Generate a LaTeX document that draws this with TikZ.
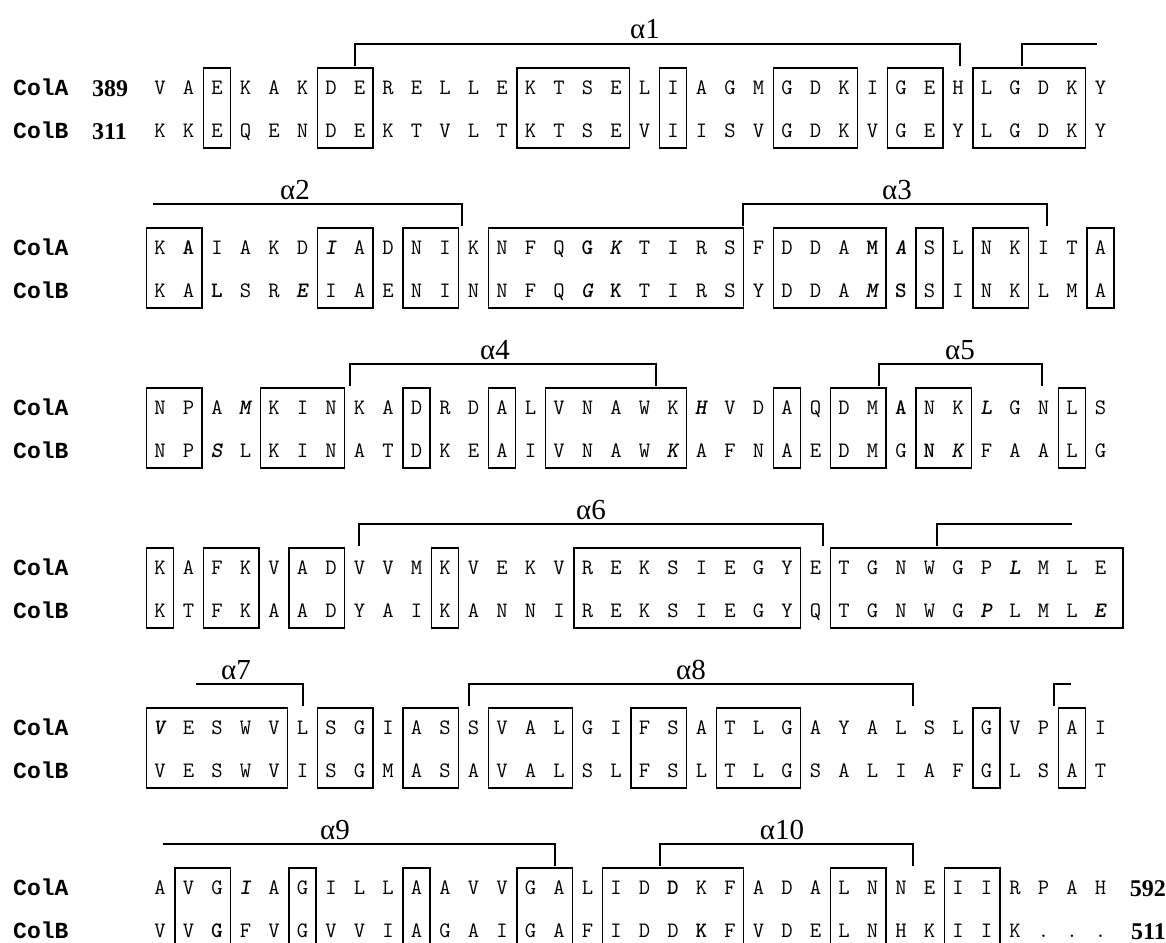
\documentclass[tikz,border=0pt]{standalone}
\usepackage{fontspec}
\setmainfont{Liberation Serif}
\newfontfamily\labfont{Liberation Mono}
\newcommand\resB[1]{\textbf{#1}}
\newcommand\resI[1]{\textbf{\textit{#1}}}
\tikzset{
  res/.style={font=\ttfamily\fontsize{22}{22}\selectfont, anchor=base, inner sep=0pt},
  rowlab/.style={font=\labfont\bfseries\fontsize{23}{23}\selectfont, anchor=base west, inner sep=0pt},
  numlab/.style={font=\rmfamily\bfseries\fontsize{24}{24}\selectfont, inner sep=0pt},
  hlab/.style={font=\rmfamily\fontsize{29}{29}\selectfont, anchor=base, inner sep=0pt},
  boxl/.style={line width=1.8pt},
  brk/.style={line width=2.2pt, line cap=butt, line join=miter},
}
% one alignment block: #1 index, #2 ColA residues, #3 ColB residues, #4 boxes
\newcommand\alnblock[4]{%
  \pgfmathsetmacro\ya{88+160*#1}%
  \pgfmathsetmacro\yb{\ya+43}%
  \node[rowlab] (la#1) at (13,\ya+7) {ColA};
  \node[rowlab] (lb#1) at (13,\yb+7) {ColB};
  \foreach \r [count=\i] in {#2} {\node[res] (a#1-\i) at ({160+28.5*(\i-1)},\ya+6.5) {\r};}
  \foreach \r [count=\i] in {#3} {\node[res] (b#1-\i) at ({160+28.5*(\i-1)},\yb+6.5) {\r};}
  \foreach \s/\e in {#4} {\draw[boxl] ({160+28.5*(\s-1)-13.5},\ya-20) rectangle ({160+28.5*(\e-1)+13.5},\yb+17);}
}
% helix brackets: #1 block, #2 left x, #3 right x
\newcommand\hfull[3]{\draw[brk] (#2,88+160*#1-22) -- (#2,88+160*#1-44) -- (#3,88+160*#1-44) -- (#3,88+160*#1-22);}
\newcommand\hopenl[3]{\draw[brk] (#2,88+160*#1-44) -- (#3,88+160*#1-44) -- (#3,88+160*#1-22);}
\newcommand\hopenr[3]{\draw[brk] (#2,88+160*#1-22) -- (#2,88+160*#1-44) -- (#3,88+160*#1-44);}
% helix label: #1 block, #2 x, #3 number
\newcommand\hname[3]{\node[hlab] (h#3) at (#2,88+160*#1-49) {α#3};}
\begin{document}
\begin{tikzpicture}[x=1pt,y=-1pt]
\useasboundingbox (0,0) rectangle (1166,942);
\clip (0,0) rectangle (1166,942);
\fill[white] (0,0) rectangle (1166,942);

% ---------- block 0 ----------
\alnblock{0}{V,A,E,K,A,K,D,E,R,E,L,L,E,K,T,S,E,L,I,A,G,M,G,D,K,I,G,E,H,L,G,D,K,Y}
 {K,K,E,Q,E,N,D,E,K,T,V,L,T,K,T,S,E,V,I,I,S,V,G,D,K,V,G,E,Y,L,G,D,K,Y}
 {3/3,7/8,14/17,19/19,23/25,27/28,30/33}
\node[numlab, anchor=base west] (na) at (92,96) {389};
\node[numlab, anchor=base west] (nb) at (92,139) {311};
\hfull{0}{355}{960}
\hname{0}{645}{1}
\hopenr{0}{1022}{1097}

% ---------- block 1 ----------
\alnblock{1}{K,\resB{A},I,A,K,D,\resI{I},A,D,N,I,K,N,F,Q,\resB{G},\resI{K},T,I,R,S,F,D,D,A,\resB{M},\resI{A},S,L,N,K,I,T,A}
 {K,A,\resB{L},S,R,\resI{E},I,A,E,N,I,N,N,F,Q,\resI{G},\resB{K},T,I,R,S,Y,D,D,A,\resI{M},\resB{S},S,I,N,K,L,M,A}
 {1/2,7/8,10/11,13/21,23/26,28/28,30/31,34/34}
\hopenl{1}{153}{462}
\hname{1}{295}{2}
\hfull{1}{743}{1047}
\hname{1}{897}{3}

% ---------- block 2 ----------
\alnblock{2}{N,P,A,\resI{M},K,I,N,K,A,D,R,D,A,L,V,N,A,W,K,\resI{H},V,D,A,Q,D,M,\resB{A},N,K,\resI{L},G,N,L,S}
 {N,P,\resI{S},L,K,I,N,A,T,D,K,E,A,I,V,N,A,W,\resI{K},A,F,N,A,E,D,M,G,\resB{N},\resI{K},F,A,A,L,G}
 {1/2,5/7,10/10,13/13,15/19,23/23,25/26,28/29,33/33}
\hfull{2}{350}{656}
\hname{2}{495}{4}
\hfull{2}{879}{1042}
\hname{2}{960}{5}

% ---------- block 3 ----------
\alnblock{3}{K,A,F,K,V,A,D,V,V,M,K,V,E,K,V,R,E,K,S,I,E,G,Y,E,T,G,N,W,G,P,\resI{L},M,L,E}
 {K,T,F,K,A,A,D,Y,A,I,K,A,N,N,I,R,E,K,S,I,E,G,Y,Q,T,G,N,W,G,\resI{P},L,M,L,\resI{E}}
 {1/1,3/4,6/7,11/11,16/23}
\draw[boxl] (830.5,548) rectangle (1123,628);
\hfull{3}{359}{823}
\hname{3}{591}{6}
\hopenr{3}{937}{1072}

% ---------- block 4 ----------
\alnblock{4}{\resI{V},E,S,W,V,L,S,G,I,A,S,S,V,A,L,G,I,F,S,A,T,L,G,A,Y,A,L,S,L,G,V,P,A,I}
 {V,E,S,W,V,I,S,G,M,A,S,A,V,A,L,S,L,F,S,L,T,L,G,S,A,L,I,A,F,G,L,S,A,T}
 {1/5,7/8,10/11,13/15,18/19,21/23,30/30,33/33}
\hopenl{4}{196}{303}
\hname{4}{236}{7}
\hfull{4}{469}{913}
\hname{4}{691}{8}
\hopenr{4}{1054}{1071}

% ---------- block 5 ----------
\alnblock{5}{A,V,G,\resI{I},A,G,I,L,L,A,A,V,V,G,A,L,I,D,\resB{D},K,F,A,D,A,L,N,N,E,I,I,R,P,A,H}
 {V,V,\resB{G},F,V,G,V,V,I,A,G,A,I,G,A,F,I,D,D,\resB{K},F,V,D,E,L,N,H,K,I,I,K,.,.,.}
 {2/3,6/6,10/10,14/15,17/21,25/26,29/30}
\node[numlab, anchor=base east] (ea) at (1166,896) {592};
\node[numlab, anchor=base east] (eb) at (1166,939) {511};
\hopenl{5}{163}{555}
\hname{5}{335}{9}
\hfull{5}{660}{913}
\hname{5}{782}{10}
\end{tikzpicture}
\end{document}
